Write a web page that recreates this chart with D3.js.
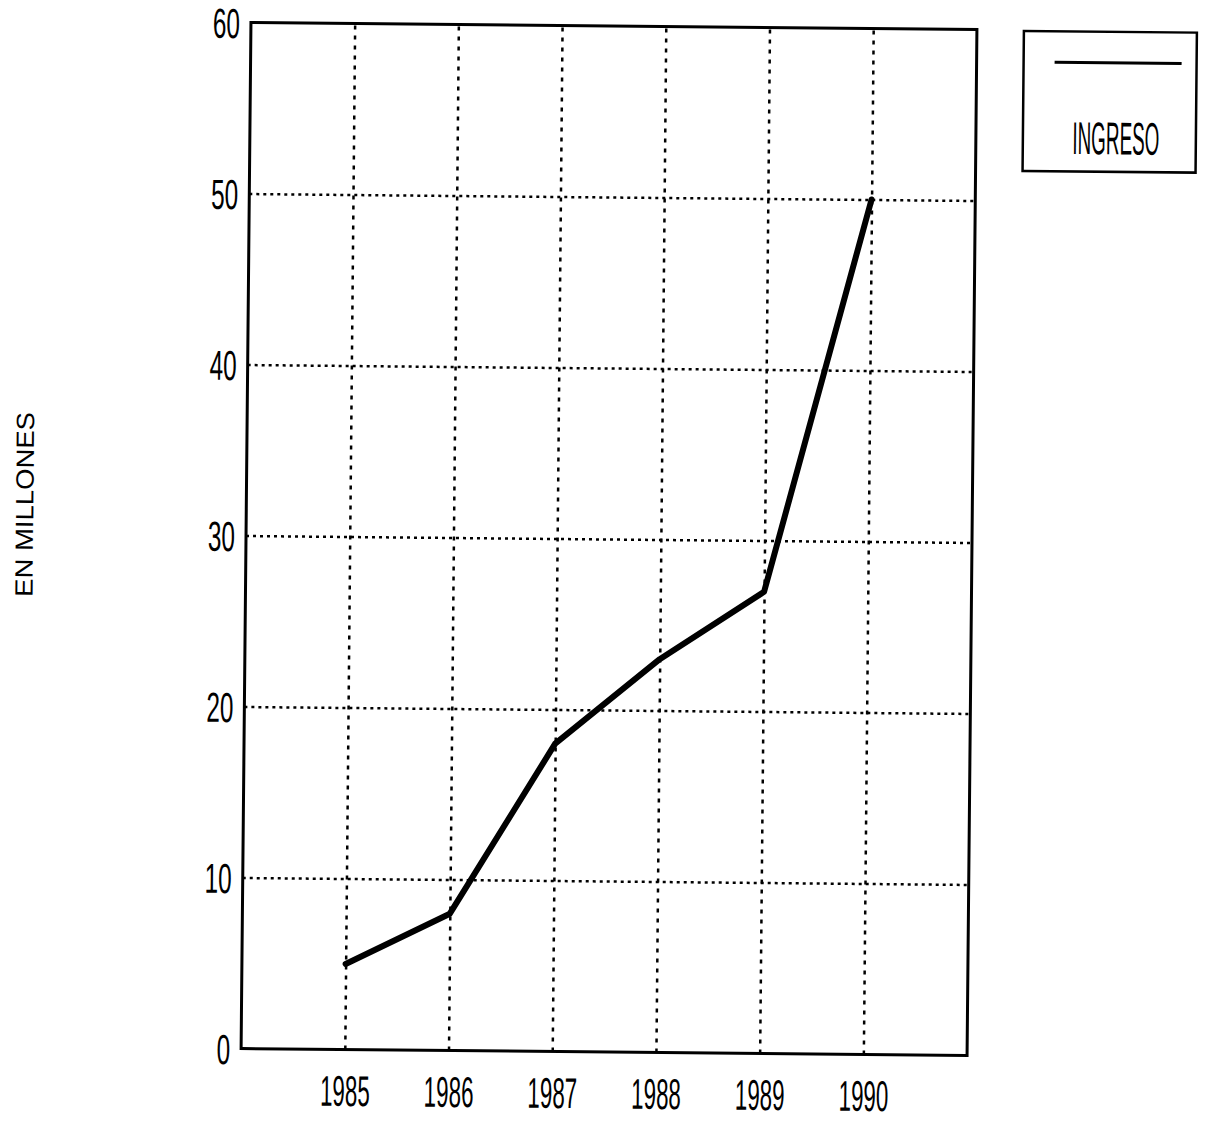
<!DOCTYPE html>
<html>
<head>
<meta charset="utf-8">
<script src="https://cdn.jsdelivr.net/npm/d3@7"></script>
<style>
  body { margin: 0; background: #fff; }
  svg { display: block; }
  text { font-family: "Liberation Sans", Arial, sans-serif; fill: #000; }
</style>
</head>
<body>
<script>
"use strict";

// data
const years = ["1985", "1986", "1987", "1988", "1989", "1990"];
const ingreso = [5, 8, 18, 23, 27, 50];
const yTicks = [0, 10, 20, 30, 40, 50, 60];
const seriesName = "INGRESO";
const yTitle = "EN MILLONES";

const W = 1218, H = 1128;
const plot = {left: 246, top: 26, right: 972, bottom: 1052};

const svg = d3.select("body").append("svg")
    .attr("width", W)
    .attr("height", H);

// the scan is slightly tilted, so the whole drawing is too
const root = svg.append("g")
    .attr("transform", "rotate(0.55, 608, 540)");

const x = d3.scalePoint()
    .domain(years)
    .range([plot.left, plot.right])
    .padding(1);

const y = d3.scaleLinear()
    .domain([0, 60])
    .range([plot.bottom, plot.top]);

// horizontal dotted grid
root.append("g")
    .attr("transform", "translate(" + plot.left + ",0)")
    .call(d3.axisLeft(y)
        .tickValues(yTicks.filter(d => d > 0 && d < 60))
        .tickSize(-(plot.right - plot.left))
        .tickFormat(""))
    .call(g => g.select(".domain").remove())
    .call(g => g.selectAll("line")
        .attr("stroke", "#000")
        .attr("stroke-width", 2.5)
        .attr("stroke-dasharray", "3,4"));

// vertical dotted grid
root.append("g")
    .attr("transform", "translate(0," + plot.bottom + ")")
    .call(d3.axisBottom(x)
        .tickSize(-(plot.bottom - plot.top))
        .tickFormat(""))
    .call(g => g.select(".domain").remove())
    .call(g => g.selectAll("line")
        .attr("stroke", "#000")
        .attr("stroke-width", 2.5)
        .attr("stroke-dasharray", "4,6"));

// frame
root.append("rect")
    .attr("x", plot.left)
    .attr("y", plot.top)
    .attr("width", plot.right - plot.left)
    .attr("height", plot.bottom - plot.top)
    .attr("fill", "none")
    .attr("stroke", "#000")
    .attr("stroke-width", 3);

// y tick labels (narrow)
const sy = 0.58;
root.append("g")
    .attr("transform", "translate(" + plot.left + ",0)")
    .call(d3.axisLeft(y).tickValues(yTicks).tickSize(0).tickPadding(8))
    .call(g => g.select(".domain").remove())
    .call(g => g.selectAll("text")
        .attr("font-family", null)
        .attr("font-size", null)
        .style("font-size", "42px")
        .attr("x", -11 / sy)
        .attr("dy", "0.36em")
        .attr("transform", "scale(" + sy + ",1)"));

// x tick labels (narrow)
const sx = 0.52;
root.append("g")
    .attr("transform", "translate(0," + plot.bottom + ")")
    .call(d3.axisBottom(x).tickSize(0).tickPadding(0))
    .call(g => g.select(".domain").remove())
    .call(g => g.selectAll("text")
        .attr("font-family", null)
        .attr("font-size", null)
        .style("font-size", "43px")
        .attr("x", 0)
        .attr("y", 41)
        .attr("dy", "0.36em")
        .attr("transform", "scale(" + sx + ",1)"));

// series line
const line = d3.line()
    .x((d, i) => x(years[i]))
    .y(d => y(d));

root.append("path")
    .datum(ingreso)
    .attr("d", line)
    .attr("fill", "none")
    .attr("stroke", "#000")
    .attr("stroke-width", 6)
    .attr("stroke-linejoin", "round")
    .attr("stroke-linecap", "round");

// y title
root.append("text")
    .attr("transform", "translate(24,510) rotate(-90) scale(1.1,1)")
    .attr("text-anchor", "middle")
    .attr("dy", "0.36em")
    .style("font-size", "25px")
    .text(yTitle);

// legend
const lg = root.append("g");
lg.append("rect")
    .attr("x", 1019)
    .attr("y", 27)
    .attr("width", 173)
    .attr("height", 140)
    .attr("fill", "none")
    .attr("stroke", "#000")
    .attr("stroke-width", 2.5);
lg.append("line")
    .attr("x1", 1050).attr("x2", 1177)
    .attr("y1", 58).attr("y2", 58)
    .attr("stroke", "#000")
    .attr("stroke-width", 3);
lg.append("text")
    .attr("transform", "translate(1112,133) scale(0.41,1)")
    .attr("text-anchor", "middle")
    .attr("dy", "0.36em")
    .style("font-size", "46px")
    .text(seriesName);
</script>
</body>
</html>
